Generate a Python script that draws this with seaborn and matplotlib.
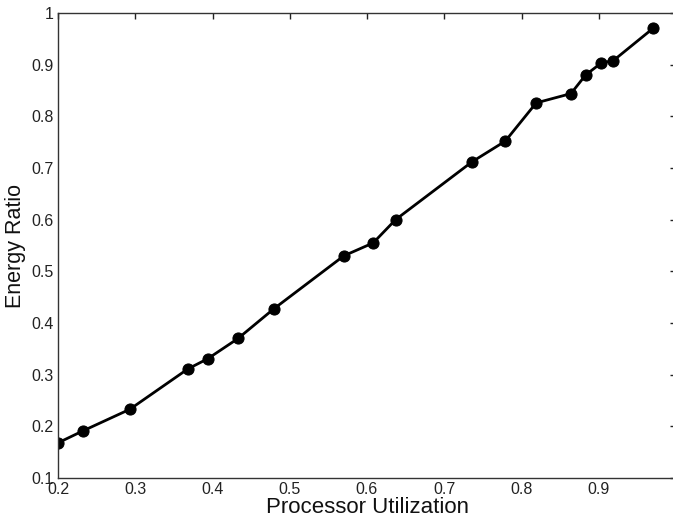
import matplotlib
matplotlib.use("Agg")
import matplotlib.pyplot as plt
import seaborn as sns
import pandas as pd
from matplotlib.ticker import FuncFormatter, FixedLocator, MultipleLocator

utilization = [0.200, 0.232, 0.293, 0.368, 0.394, 0.433, 0.479, 0.570, 0.608,
               0.637, 0.736, 0.779, 0.819, 0.864, 0.883, 0.903, 0.919, 0.970]
energy_ratio = [0.168, 0.191, 0.233, 0.311, 0.331, 0.370, 0.427, 0.530, 0.555,
                0.600, 0.712, 0.752, 0.826, 0.844, 0.880, 0.903, 0.908, 0.970]
x_ticks = [0.2, 0.3, 0.4, 0.5, 0.6, 0.7, 0.8, 0.9]

df = pd.DataFrame({"Processor Utilization": utilization, "Energy Ratio": energy_ratio})

sns.set_theme(style="white")
plt.rcParams['font.family'] = ['Liberation Sans', 'DejaVu Sans']

fig = plt.figure(figsize=(6.73, 5.2), dpi=100)
ax = fig.add_axes([58/673, 42/520, 618/673, 465/520])

sns.lineplot(data=df, x="Processor Utilization", y="Energy Ratio", ax=ax,
             color="black", linewidth=2, marker="o", markersize=8,
             markeredgecolor="black", markerfacecolor="black")

ax.set_xlim(0.2, 1.0)
ax.set_ylim(0.1, 1.0)
ax.xaxis.set_major_locator(FixedLocator(x_ticks))
ax.yaxis.set_major_locator(MultipleLocator(0.1))
fmt = FuncFormatter(lambda v, p: "%g" % round(v, 2))
ax.xaxis.set_major_formatter(fmt)
ax.yaxis.set_major_formatter(fmt)
ax.tick_params(direction="in", length=4, width=1, top=True, right=True,
               labelsize=11.5, colors="#222222", pad=3)
for s in ax.spines.values():
    s.set_color("#333333")
    s.set_linewidth(1)
ax.set_xlabel("Processor Utilization", fontsize=16, labelpad=0, color="#111111")
ax.set_ylabel("Energy Ratio", fontsize=15.5, labelpad=4, color="#111111")

fig.savefig("out.png", dpi=100)
